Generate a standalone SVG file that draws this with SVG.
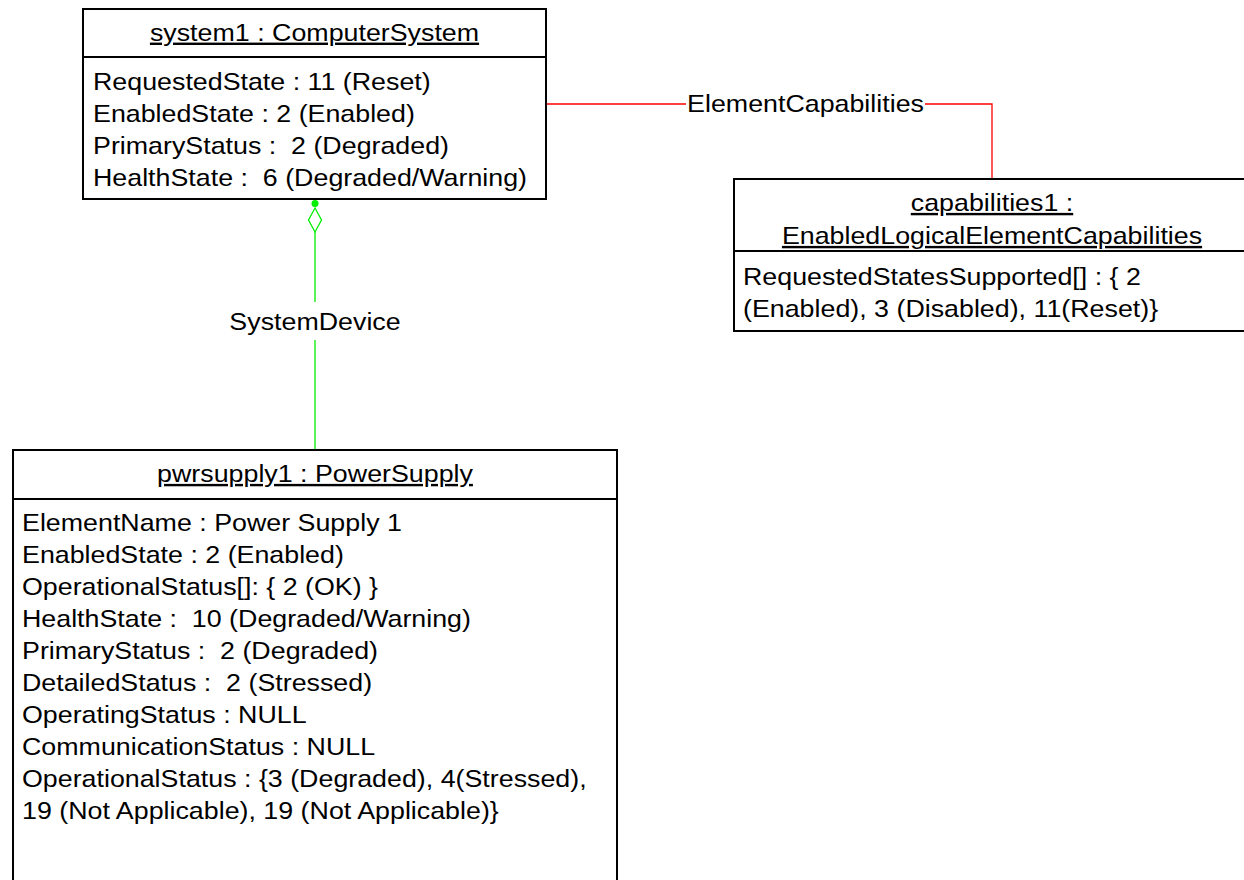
<svg xmlns="http://www.w3.org/2000/svg" width="1244" height="880" viewBox="0 0 1244 880">
<style>
.t{font-family:"Liberation Sans",Arial,sans-serif;font-size:24px;fill:#000;white-space:pre}
.m{text-anchor:middle}
.u{text-decoration:underline}
.box{fill:#fff;stroke:#000;stroke-width:2}
.sep{stroke:#000;stroke-width:2}
.red{fill:none;stroke:#ff0000;stroke-width:1.3}
.green{fill:none;stroke:#00ee00;stroke-width:1.3}
.bg{fill:#fff;stroke:none}
</style>
<rect x="0" y="0" width="1244" height="880" fill="#fff"/>
<g id="connectors">
  <g id="elementCapabilities">
    <polyline class="red" points="546,104 992,104 992,179"/>
    <rect class="bg" x="686" y="92" width="239" height="26"/>
    <text class="t" transform="translate(805.5,112) scale(1.117,1)" text-anchor="middle">ElementCapabilities</text>
  </g>
  <g id="systemDevice">
    <line class="green" x1="315" y1="232" x2="315" y2="450"/>
    <rect class="bg" x="228" y="302" width="174" height="38"/>
    <text class="t" transform="translate(315,330) scale(1.117,1)" text-anchor="middle">SystemDevice</text>
    <polygon points="315,208 321.5,220 315,232 308.5,220" fill="#fff" stroke="#00ee00" stroke-width="1.3"/>
    <circle cx="315" cy="203.5" r="3.5" fill="#00ee00"/>
  </g>
</g>
<g id="system1">
  <rect class="box" x="83" y="9" width="463" height="190"/>
  <line class="sep" x1="83" y1="57" x2="546" y2="57"/>
  <text class="t u" transform="translate(314.5,40.7) scale(1.117,1)" text-anchor="middle">system1 : ComputerSystem</text>
  <text class="t" transform="translate(93,90) scale(1.117,1)">RequestedState : 11 (Reset)</text>
  <text class="t" transform="translate(93,122) scale(1.117,1)">EnabledState : 2 (Enabled)</text>
  <text class="t" transform="translate(93,154) scale(1.117,1)">PrimaryStatus :  2 (Degraded)</text>
  <text class="t" transform="translate(93,186) scale(1.117,1)">HealthState :  6 (Degraded/Warning)</text>
</g>
<g id="capabilities1">
  <rect class="box" x="734" y="179" width="520" height="152"/>
  <line class="sep" x1="734" y1="251" x2="1254" y2="251"/>
  <text class="t u" transform="translate(992,211) scale(1.117,1)" text-anchor="middle">capabilities1 :</text>
  <text class="t u" transform="translate(992,244) scale(1.117,1)" text-anchor="middle">EnabledLogicalElementCapabilities</text>
  <text class="t" transform="translate(743,285) scale(1.117,1)">RequestedStatesSupported[] : { 2</text>
  <text class="t" transform="translate(743,317) scale(1.117,1)">(Enabled), 3 (Disabled), 11(Reset)}</text>
</g>
<g id="pwrsupply1">
  <rect class="box" x="13" y="450" width="604" height="450"/>
  <line class="sep" x1="13" y1="499" x2="617" y2="499"/>
  <text class="t u" transform="translate(315,482) scale(1.117,1)" text-anchor="middle">pwrsupply1 : PowerSupply</text>
  <text class="t" transform="translate(22,531) scale(1.117,1)">ElementName : Power Supply 1</text>
  <text class="t" transform="translate(22,563) scale(1.117,1)">EnabledState : 2 (Enabled)</text>
  <text class="t" transform="translate(22,595) scale(1.117,1)">OperationalStatus[]: { 2 (OK) }</text>
  <text class="t" transform="translate(22,627) scale(1.117,1)">HealthState :  10 (Degraded/Warning)</text>
  <text class="t" transform="translate(22,659) scale(1.117,1)">PrimaryStatus :  2 (Degraded)</text>
  <text class="t" transform="translate(22,691) scale(1.117,1)">DetailedStatus :  2 (Stressed)</text>
  <text class="t" transform="translate(22,723) scale(1.117,1)">OperatingStatus : NULL</text>
  <text class="t" transform="translate(22,755) scale(1.117,1)">CommunicationStatus : NULL</text>
  <text class="t" transform="translate(22,787) scale(1.117,1)">OperationalStatus : {3 (Degraded), 4(Stressed),</text>
  <text class="t" transform="translate(22,819) scale(1.117,1)">19 (Not Applicable), 19 (Not Applicable)}</text>
</g>
</svg>
